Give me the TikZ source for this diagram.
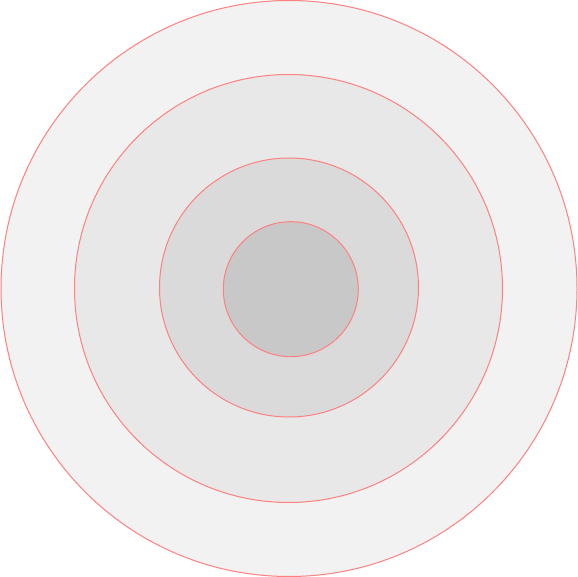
\documentclass[tikz,border=0pt]{standalone}
\begin{document}
\begin{tikzpicture}[x=1pt,y=-1pt,
  ring/.style={draw=red!50, line width=1pt}]
\useasboundingbox (0,0) rectangle (578,577);
\fill[white] (0,0) rectangle (578,577);
\path[ring, fill={rgb,255:red,242;green,242;blue,242}] (289,288.5) circle (288);
\path[ring, fill={rgb,255:red,232;green,232;blue,232}] (288.5,288.5) circle (214);
\path[ring, fill={rgb,255:red,218;green,218;blue,218}] (289,287.5) circle (129.5);
\path[ring, fill={rgb,255:red,200;green,200;blue,200}] (290.8,289.2) circle (67.5);
\end{tikzpicture}
\end{document}
